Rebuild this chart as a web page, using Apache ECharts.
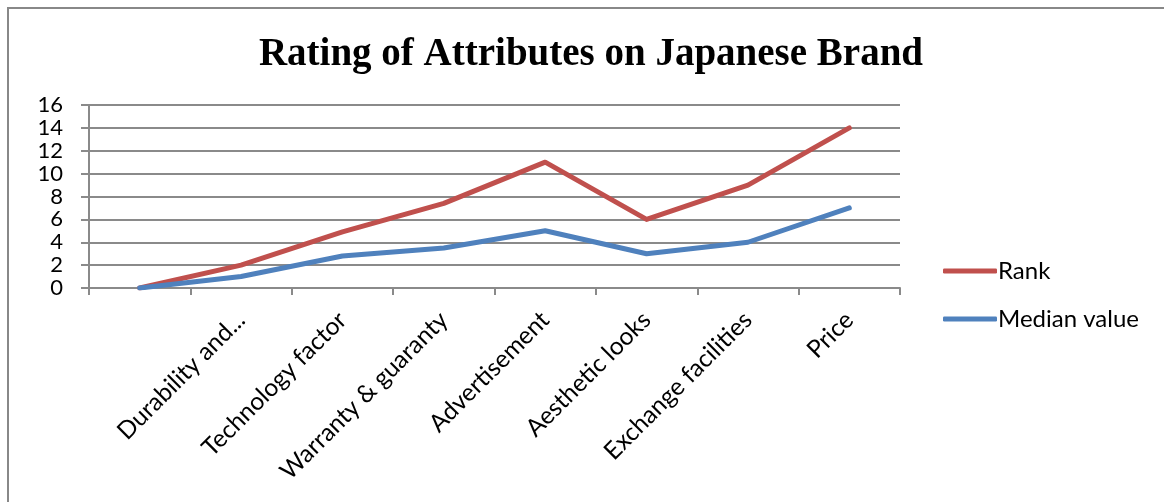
<!DOCTYPE html>
<html>
<head>
<meta charset="utf-8">
<script src="https://cdn.jsdelivr.net/npm/echarts@6/dist/echarts.min.js"></script>
<style>
html,body{margin:0;padding:0;background:#fff;}
#c{width:1164px;height:502px;}
</style>
</head>
<body>
<div id="c"></div>
<script>
var categories = ["", "Durability and...", "Technology factor", "Warranty & guaranty", "Advertisement", "Aesthetic looks", "Exchange facilities", "Price"];
var rankValues = [0, 2, 4.9, 7.4, 11, 6, 9, 14];
var medianValues = [0, 1, 2.8, 3.5, 5, 3, 4, 7];
var yTicks = [0, 2, 4, 6, 8, 10, 12, 14, 16];

var chart = echarts.init(document.getElementById('c'));
var txtFont = 'Lato, "Open Sans", sans-serif';
var gridGray = '#8a8a8a';
chart.setOption({
  animation: false,
  backgroundColor: '#fff',
  title: {
    text: 'Rating of Attributes on Japanese Brand',
    left: 586, top: 30, textAlign: 'center',
    textStyle: {fontFamily: '"Liberation Serif", serif', fontWeight: 'bold', fontSize: 39, color: '#000'}
  },
  graphic: [{
    type: 'rect', shape: {x: 8, y: 8, width: 1200, height: 600},
    style: {fill: 'none', stroke: '#888888', lineWidth: 2}, silent: true
  }],
  legend: {
    orient: 'vertical', left: 938, top: 254, itemGap: 24,
    itemWidth: 54, itemHeight: 5, icon: 'roundRect',
    textStyle: {fontFamily: txtFont, fontSize: 24, color: '#000', padding: [0, 0, 0, -4]},
    data: ['Rank', 'Median value']
  },
  grid: {left: 89, right: 264, top: 105, bottom: 214, containLabel: false},
  xAxis: {
    type: 'category', data: categories, boundaryGap: true,
    axisLine: {lineStyle: {color: gridGray, width: 2}},
    axisTick: {show: true, length: 7, interval: 0, lineStyle: {color: gridGray, width: 2}},
    axisLabel: {interval: 0, rotate: 45, margin: 28, fontFamily: txtFont, fontSize: 24.5, color: '#000'}
  },
  yAxis: {
    type: 'value', min: 0, max: 16, interval: 2,
    axisLine: {show: true, lineStyle: {color: gridGray, width: 2}},
    axisTick: {show: true, length: 8, lineStyle: {color: gridGray, width: 2}},
    splitLine: {lineStyle: {color: gridGray, width: 2}},
    axisLabel: {fontFamily: txtFont, fontSize: 22, color: '#000', margin: 26,
      formatter: function (v) { return yTicks.indexOf(v) >= 0 ? String(v) : ''; }}
  },
  series: [
    {name: 'Rank', type: 'line', data: rankValues, symbol: 'none',
      lineStyle: {color: '#C0504D', width: 5, cap: 'round', join: 'round'}, itemStyle: {color: '#C0504D'}},
    {name: 'Median value', type: 'line', data: medianValues, symbol: 'none',
      lineStyle: {color: '#4F81BD', width: 5, cap: 'round', join: 'round'}, itemStyle: {color: '#4F81BD'}}
  ]
});
</script>
</body>
</html>
